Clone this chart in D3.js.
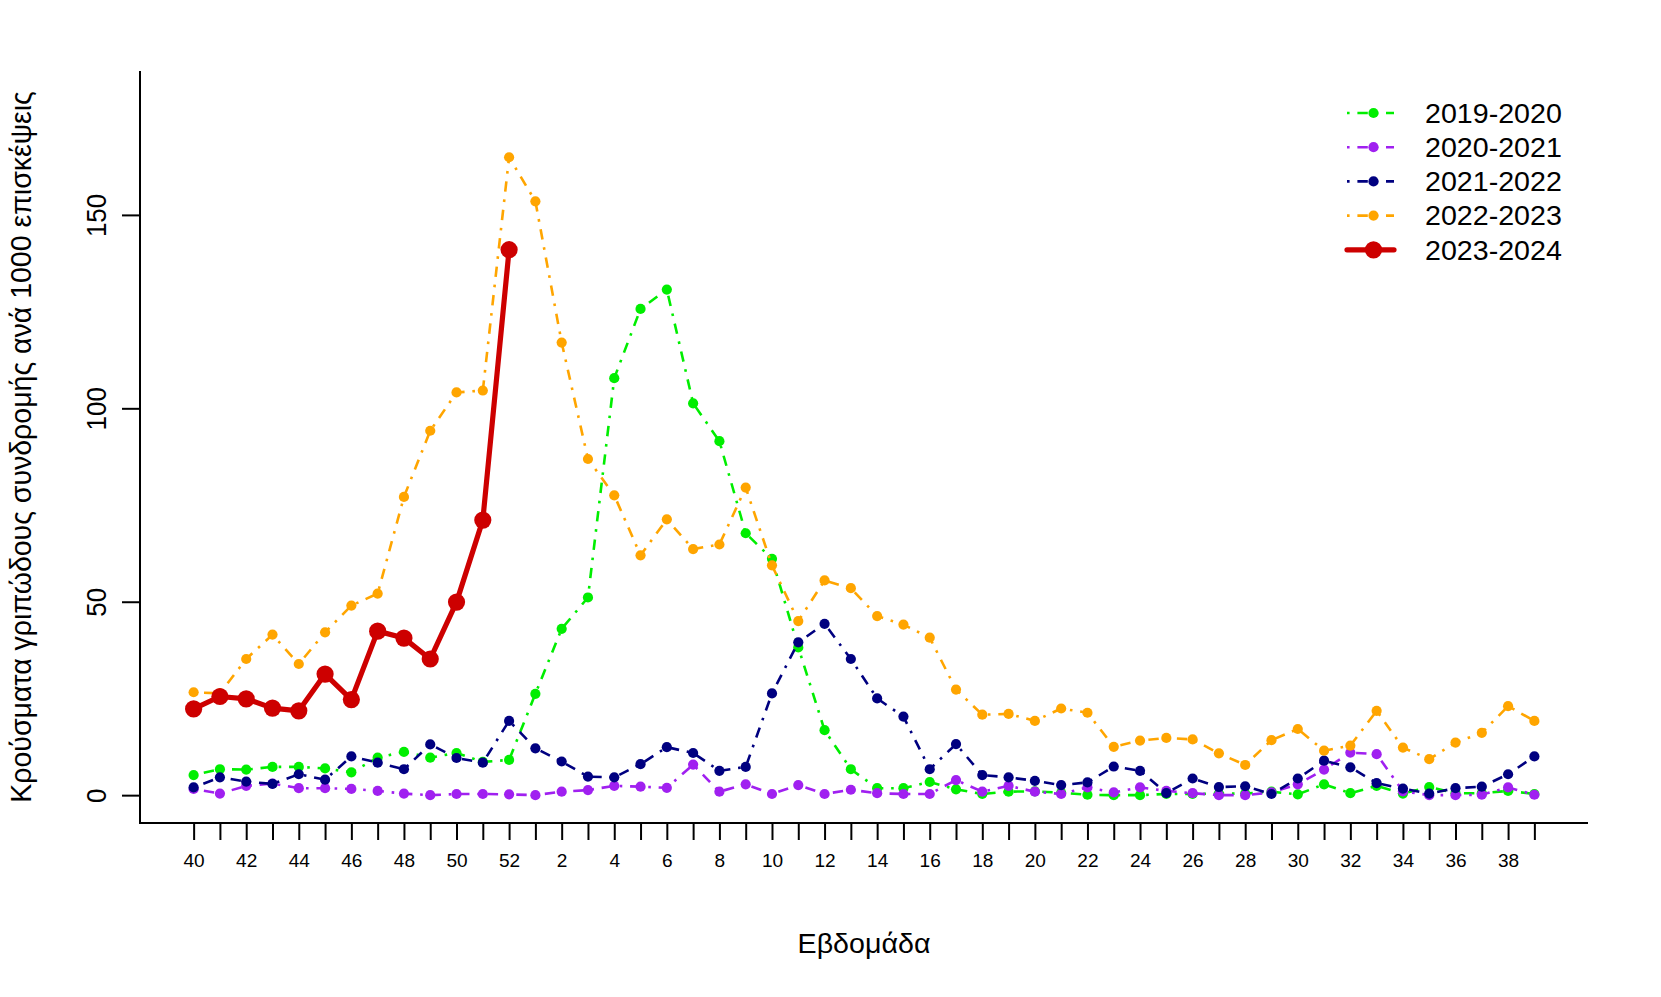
<!DOCTYPE html>
<html>
<head>
<meta charset="utf-8">
<script src="https://cdn.jsdelivr.net/npm/d3@7"></script>
<style>
body { margin: 0; background: #fff; }
text { font-family: "Liberation Sans", Arial, sans-serif; fill: #000; }
</style>
</head>
<body>
<svg id="chart"></svg>
<script>

// week labels (season runs week 40 -> week 39)
var weeks = [40,41,42,43,44,45,46,47,48,49,50,51,52,
    1,2,3,4,5,6,7,8,9,10,11,12,13,14,15,16,17,18,19,20,
    21,22,23,24,25,26,27,28,29,30,31,32,33,34,35,36,37,38,39];

var s2019 = [5.2,6.7,6.6,7.3,7.3,6.9,5.9,9.7,11.2,9.7,10.9,8.6,9.1,
    26.2,43.0,51.1,107.8,125.7,130.7,101.3,91.5,67.7,61.1,38.2,16.8,6.7,1.8,1.8,3.4,1.5,0.3,0.9,1.0,
    0.6,0.1,0,0,0.3,0.3,0.4,0.4,0.9,0.2,2.8,0.5,2.4,0.4,2.1,0.5,0.5,1.1,0.3];

var s2020 = [1.6,0.4,2.4,3.0,1.8,1.8,1.6,1.1,0.4,0,0.3,0.3,0.2,
    0,0.9,1.3,2.4,2.2,1.9,7.9,0.9,2.8,0.3,2.6,0.3,1.4,0.5,0.3,0.3,3.9,0.9,2.4,0.9,
    0.3,2.0,0.7,2.0,1.1,0.5,0,0,0.7,2.8,6.6,11.0,10.6,1.0,0,0,0.1,2.0,0.1];

var s2021 = [2.0,4.6,3.5,2.9,5.4,4.0,10.0,8.4,6.7,13.1,9.6,8.4,19.2,
    12.1,8.7,4.8,4.6,8.0,12.4,10.9,6.3,7.3,26.3,39.5,44.3,35.2,25.0,20.3,6.7,13.2,5.2,4.6,3.7,
    2.6,3.3,7.4,6.3,0.5,4.3,2.1,2.3,0.3,4.3,8.9,7.2,3.1,1.7,0.4,1.8,2.2,5.4,10.0];

var s2022 = [26.6,26.3,35.2,41.5,33.9,42.1,49.0,52.1,77.1,94.2,104.1,104.6,164.9,
    153.5,117.0,86.9,77.5,62.0,71.3,63.6,64.8,79.5,59.4,45.0,55.5,53.5,46.3,44.1,40.7,27.3,20.8,21.0,19.2,
    22.4,21.3,12.5,14.1,14.8,14.4,10.8,7.8,14.2,17.1,11.5,12.8,21.8,12.3,9.3,13.6,16.1,23.0,19.2];

var s2023 = [22.3,25.5,24.9,22.5,21.8,31.3,24.7,42.4,40.6,35.2,49.9,71.1,141.0];

var seasonNames = ["2019-2020", "2020-2021", "2021-2022", "2022-2023", "2023-2024"];
var seasonColors = ["#00EE00", "#A020F0", "#000080", "#FFA500", "#CD0000"];
var yTicks = [0, 50, 100, 150];

var yTitle = "Κρούσματα γριπώδους συνδρομής ανά 1000 επισκέψεις";
var xTitle = "Εβδομάδα";

var series = [s2019, s2020, s2021, s2022, s2023];

var svgWidth = 1661, svgHeight = 997;
var plot = { left: 140, right: 1588, top: 71, bottom: 823 };
var stretch = 1.06; // text in the original looks a bit wide
var dash = "2.6,7.8,10.4,7.8"; // R "dotdash" at lwd ~2.6

var svg = d3.select("#chart")
    .attr("width", svgWidth)
    .attr("height", svgHeight);

svg.append("rect").attr("width", svgWidth).attr("height", svgHeight).attr("fill", "#fff");

var n = weeks.length;
var x = d3.scaleLinear().domain([-0.04 * (n - 1), 1.04 * (n - 1)]).range([plot.left, plot.right]);
var y = d3.scaleLinear().domain([-7.2, 187.2]).range([plot.bottom, plot.top]);

var line = d3.line()
    .x(function (d, i) { return x(i); })
    .y(function (d) { return y(d); });

// thin seasons first, current season on top
for (var j = 0; j < series.length; j++) {
    var current = (j == series.length - 1);
    var g = svg.append("g");
    g.append("path")
        .datum(series[j])
        .attr("d", line)
        .attr("fill", "none")
        .attr("stroke", seasonColors[j])
        .attr("stroke-width", current ? 5.2 : 2.6)
        .attr("stroke-linejoin", "round")
        .attr("stroke-linecap", current ? "round" : "butt")
        .attr("stroke-dasharray", current ? null : dash);
    g.selectAll("circle")
        .data(series[j])
        .enter()
        .append("circle")
            .attr("cx", function (d, i) { return x(i); })
            .attr("cy", function (d) { return y(d); })
            .attr("r", current ? 8.6 : 5.1)
            .attr("fill", seasonColors[j]);
}

// box (bty = "l")
svg.append("path")
    .attr("d", "M" + plot.left + "," + plot.top + "V" + plot.bottom + "H" + plot.right)
    .attr("fill", "none")
    .attr("stroke", "#000")
    .attr("stroke-width", 2);

// y axis
var yAxis = svg.append("g")
    .attr("transform", "translate(" + plot.left + ",0)")
    .call(d3.axisLeft(y).tickValues(yTicks).tickSize(18).tickSizeOuter(0));
yAxis.select(".domain").remove();
yAxis.selectAll(".tick line").attr("stroke", "#000").attr("stroke-width", 2);
yAxis.selectAll(".tick text")
    .attr("x", null).attr("dy", null)
    .attr("text-anchor", "middle")
    .attr("transform", "translate(-34,0) scale(" + stretch + ",1) rotate(-90)")
    .style("font-size", "26px")
    .style("font-family", "'Liberation Sans', Arial, sans-serif")
    .attr("fill", "#000");

// x axis
var xAxis = svg.append("g")
    .attr("transform", "translate(0," + plot.bottom + ")")
    .call(d3.axisBottom(x)
        .tickValues(d3.range(n))
        .tickSize(17)
        .tickSizeOuter(0)
        .tickPadding(14)
        .tickFormat(function (d) { return d % 2 == 0 ? weeks[d] : ""; }));
xAxis.select(".domain").remove();
xAxis.selectAll(".tick line").attr("stroke", "#000").attr("stroke-width", 2);
xAxis.selectAll(".tick text")
    .style("font-size", "18px")
    .style("font-family", "'Liberation Sans', Arial, sans-serif")
    .attr("fill", "#000")
    .attr("transform", "scale(" + stretch + ",1)")
    .attr("x", 0);

// axis titles
svg.append("text")
    .attr("transform", "translate(" + ((plot.left + plot.right) / 2) + ",953) scale(" + stretch + ",1)")
    .attr("text-anchor", "middle")
    .style("font-size", "27px")
    .text(xTitle);

svg.append("text")
    .attr("transform", "translate(31," + ((plot.top + plot.bottom) / 2) + ") scale(" + stretch + ",1) rotate(-90)")
    .attr("text-anchor", "middle")
    .style("font-size", "28.5px")
    .text(yTitle);

// legend
var legend = svg.append("g").attr("transform", "translate(1347,113)");
seasonNames.forEach(function (name, j) {
    var current = (j == seasonNames.length - 1);
    var row = legend.append("g").attr("transform", "translate(0," + (j * 34.2) + ")");
    row.append("line")
        .attr("x1", 0).attr("x2", 47)
        .attr("stroke", seasonColors[j])
        .attr("stroke-width", current ? 5.2 : 2.6)
        .attr("stroke-linecap", current ? "round" : "butt")
        .attr("stroke-dasharray", current ? null : dash);
    row.append("circle")
        .attr("cx", 26.5)
        .attr("r", current ? 8.6 : 5.1)
        .attr("fill", seasonColors[j]);
    row.append("text")
        .attr("transform", "translate(78,0) scale(" + stretch + ",1)")
        .attr("dy", "0.36em")
        .style("font-size", "27px")
        .text(name);
});

</script>
</body>
</html>
